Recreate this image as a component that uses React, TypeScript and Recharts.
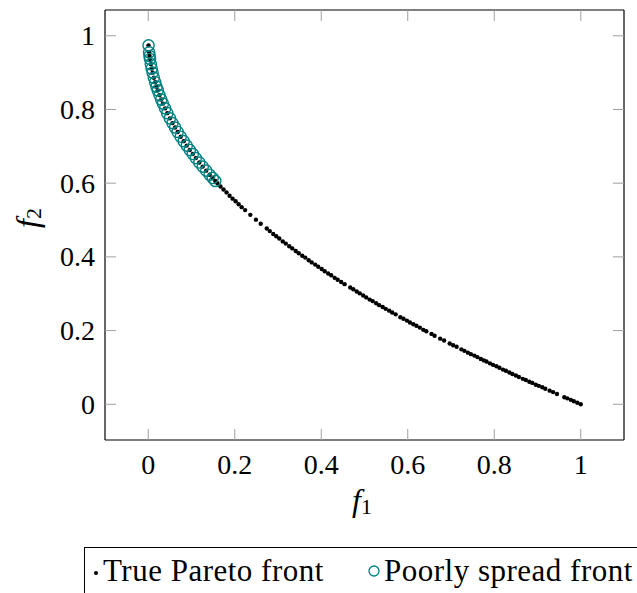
import { ScatterChart, Scatter, XAxis, YAxis } from 'recharts';

const FONT = '"Liberation Serif", "DejaVu Serif", serif';
const TEAL = '#008080';
const TICK_GRAY = '#a0a0a0';

// ticks
const xTicks = [0, 0.2, 0.4, 0.6, 0.8, 1];
const yTicks = [0, 0.2, 0.4, 0.6, 0.8, 1];

// poorly spread front
const poorF1 = [
  0.0007, 0.002, 0.003, 0.004, 0.006, 0.008, 0.01, 0.013, 0.016, 0.019, 0.022,
  0.026, 0.03, 0.034, 0.039, 0.044, 0.05, 0.056, 0.062, 0.068, 0.075, 0.082,
  0.089, 0.096, 0.103, 0.11, 0.118, 0.126, 0.134, 0.142, 0.149, 0.155,
];
const poorF2 = [
  0.974, 0.955, 0.945, 0.937, 0.923, 0.911, 0.9, 0.886, 0.874, 0.862, 0.852,
  0.839, 0.827, 0.816, 0.803, 0.79, 0.776, 0.763, 0.751, 0.739, 0.726, 0.714,
  0.702, 0.69, 0.679, 0.668, 0.656, 0.645, 0.634, 0.623, 0.614, 0.606,
];

// true pareto front, rest of the dots past the circles
const trueF1 = [
  0.16, 0.167, 0.174, 0.181, 0.188, 0.195, 0.202, 0.209, 0.216, 0.224,
  0.236, 0.249, 0.26,
  0.274, 0.281, 0.289, 0.296, 0.303, 0.311, 0.318, 0.326, 0.333, 0.341,
  0.348, 0.356, 0.363, 0.371, 0.378, 0.386, 0.393, 0.401, 0.408, 0.416,
  0.423, 0.431, 0.438, 0.446, 0.454,
  0.467, 0.474, 0.482, 0.489, 0.497, 0.504, 0.512, 0.519, 0.527, 0.534,
  0.542, 0.549, 0.557, 0.564, 0.572,
  0.583, 0.59, 0.598, 0.605, 0.613, 0.62, 0.628, 0.636, 0.643,
  0.655, 0.662, 0.675, 0.684,
  0.697, 0.705, 0.713,
  0.724, 0.731, 0.739, 0.746, 0.754, 0.761, 0.769, 0.776, 0.782,
  0.79, 0.797, 0.805, 0.812, 0.82, 0.827, 0.835, 0.842, 0.85, 0.857,
  0.866, 0.873, 0.881, 0.888, 0.896, 0.903, 0.911, 0.918,
  0.928, 0.936, 0.945,
  0.962, 0.969, 0.977, 0.984, 0.992, 1.0,
];
const trueF2 = [
  0.6, 0.591, 0.583, 0.575, 0.566, 0.558, 0.551, 0.543, 0.535, 0.527,
  0.514, 0.501, 0.49,
  0.477, 0.47, 0.462, 0.456, 0.45, 0.442, 0.436, 0.429, 0.423, 0.416,
  0.41, 0.403, 0.398, 0.391, 0.385, 0.379, 0.373, 0.367, 0.361, 0.355,
  0.35, 0.343, 0.338, 0.332, 0.326,
  0.317, 0.312, 0.306, 0.301, 0.295, 0.29, 0.284, 0.28, 0.274, 0.269,
  0.264, 0.259, 0.254, 0.249, 0.244,
  0.236, 0.232, 0.227, 0.222, 0.217, 0.213, 0.208, 0.202, 0.198,
  0.191, 0.186, 0.178, 0.173,
  0.165, 0.16, 0.156,
  0.149, 0.145, 0.14, 0.136, 0.132, 0.128, 0.123, 0.119, 0.116,
  0.111, 0.107, 0.103, 0.099, 0.094, 0.091, 0.086, 0.082, 0.078, 0.074,
  0.069, 0.066, 0.061, 0.058, 0.053, 0.05, 0.046, 0.042,
  0.037, 0.033, 0.028,
  0.019, 0.016, 0.012, 0.008, 0.004, 0,
];

const poorData = poorF1.map((x, i) => ({ x, y: poorF2[i] }));
// the true front passes through all the circle points too
const trueData = [
  ...poorData,
  ...trueF1.map((x, i) => ({ x, y: trueF2[i] })),
];

const fmt = (v: number) => String(v);

function BottomTick({ x, y, payload }: any) {
  return (
    <g>
      <line x1={x} x2={x} y1={y} y2={y - 11} stroke={TICK_GRAY} />
      <text x={x} y={y + 24} textAnchor="middle" dominantBaseline="central"
        fontFamily={FONT} fontSize={28} fill="#000">
        {fmt(payload.value)}
      </text>
    </g>
  );
}

function TopTick({ x, y }: any) {
  return <line x1={x} x2={x} y1={y} y2={y + 11} stroke={TICK_GRAY} />;
}

function LeftTick({ x, y, payload }: any) {
  return (
    <g>
      <line x1={x} x2={x + 11} y1={y} y2={y} stroke={TICK_GRAY} />
      <text x={x - 10} y={y} textAnchor="end" dominantBaseline="central"
        fontFamily={FONT} fontSize={28} fill="#000">
        {fmt(payload.value)}
      </text>
    </g>
  );
}

function RightTick({ x, y }: any) {
  return <line x1={x} x2={x - 11} y1={y} y2={y} stroke={TICK_GRAY} />;
}

const Dot = (p: any) => <circle cx={p.cx} cy={p.cy} r={2.2} fill="#000" />;
const Ring = (p: any) => (
  <circle cx={p.cx} cy={p.cy} r={5.6} fill="none" stroke={TEAL} strokeWidth={1.4} />
);

export default function App() {
  return (
    <div style={{ position: 'absolute', left: 0, top: 0, width: 637, height: 593, overflow: 'hidden', background: '#fff' }}>
      <ScatterChart width={637} height={593} margin={{ top: 0, right: 0, bottom: 113, left: 45 }}>
        <XAxis xAxisId="b" type="number" dataKey="x" domain={[-0.1, 1.1]} ticks={xTicks}
          allowDataOverflow orientation="bottom" height={40} tickSize={0} tickMargin={0}
          tickLine={false} axisLine={{ stroke: '#000', strokeWidth: 1.2 }} tick={BottomTick} interval={0} />
        <XAxis xAxisId="t" type="number" dataKey="x" domain={[-0.1, 1.1]} ticks={xTicks}
          allowDataOverflow orientation="top" height={10} tickSize={0} tickMargin={0}
          tickLine={false} axisLine={{ stroke: '#000', strokeWidth: 1.2 }} tick={TopTick} interval={0} />
        <YAxis yAxisId="l" type="number" dataKey="y" domain={[-0.097, 1.07]} ticks={yTicks}
          allowDataOverflow orientation="left" width={60} tickSize={0} tickMargin={0}
          tickLine={false} axisLine={{ stroke: '#000', strokeWidth: 1.2 }} tick={LeftTick} interval={0} />
        <YAxis yAxisId="r" type="number" dataKey="y" domain={[-0.097, 1.07]} ticks={yTicks}
          allowDataOverflow orientation="right" width={13} tickSize={0} tickMargin={0}
          tickLine={false} axisLine={{ stroke: '#000', strokeWidth: 1.2 }} tick={RightTick} interval={0} />
        <Scatter xAxisId="b" yAxisId="l" data={trueData} shape={Dot} isAnimationActive={false} />
        <Scatter xAxisId="b" yAxisId="l" data={poorData} shape={Ring} isAnimationActive={false} />
        <text x={362} y={500} textAnchor="middle" dominantBaseline="central"
          fontFamily={FONT} fontSize={32} fontStyle="italic" fill="#000">
          f<tspan fontStyle="normal" fontSize={22} dy={6}>1</tspan>
        </text>
        <text x={27} y={218} textAnchor="middle" dominantBaseline="central"
          transform="rotate(-90 27 218)"
          fontFamily={FONT} fontSize={32} fontStyle="italic" fill="#000">
          f<tspan fontStyle="normal" fontSize={22} dy={6}>2</tspan>
        </text>
      </ScatterChart>

      {/* legend box, cut off by the right and bottom edges like the original */}
      <div style={{ position: 'absolute', left: 84, top: 547, width: 600, height: 70, border: '1px solid #000', boxSizing: 'border-box', fontFamily: FONT, fontSize: 31, color: '#000' }}>
        <svg width={20} height={20} style={{ position: 'absolute', left: 1, top: 15 }}>
          <circle cx={10} cy={10} r={2} fill="#000" />
        </svg>
        <span style={{ position: 'absolute', left: 18, top: 5, whiteSpace: 'nowrap', letterSpacing: 0.5, lineHeight: '36px' }}>True Pareto front</span>
        <svg width={20} height={20} style={{ position: 'absolute', left: 279, top: 13 }}>
          <circle cx={10} cy={10} r={5} fill="none" stroke={TEAL} strokeWidth={1.3} />
        </svg>
        <span style={{ position: 'absolute', left: 299, top: 5, whiteSpace: 'nowrap', letterSpacing: 0.5, lineHeight: '36px' }}>Poorly spread front</span>
      </div>
    </div>
  );
}
